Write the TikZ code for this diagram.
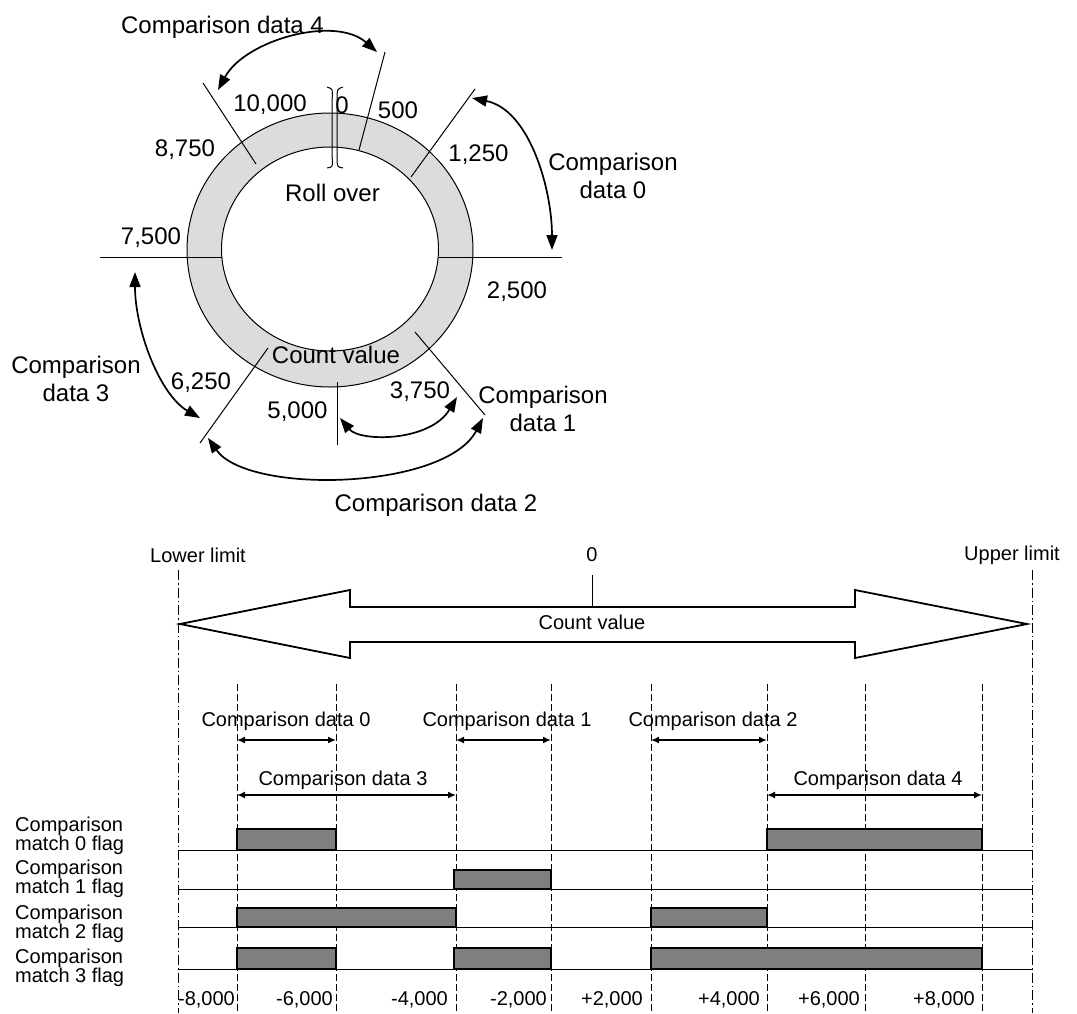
\documentclass[tikz,border=0pt]{standalone}
\usepackage{fontspec}
\setmainfont{Liberation Sans}
\usetikzlibrary{arrows.meta}
\definecolor{ringgray}{HTML}{DCDCDC}
\definecolor{flagfill}{HTML}{7F7F7F}
\begin{document}
\begin{tikzpicture}[x=1pt,y=-1pt,
  big/.style={font=\fontsize{24}{28}\selectfont, inner sep=0pt},
  small/.style={font=\fontsize{20}{20}\selectfont, inner sep=0pt},
  flaglbl/.style={font=\fontsize{20}{19}\selectfont, inner sep=0pt, align=left, anchor=west},
  num/.style={font=\fontsize{20}{20}\selectfont, inner sep=0pt, anchor=east},
  thinline/.style={line width=1pt},
  curvarr/.style={line width=1.7pt, {Triangle[length=15pt,width=11pt]}-{Triangle[length=15pt,width=11pt]}},
  rangearr/.style={line width=2.3pt, {Latex[length=8pt,width=7pt]}-{Latex[length=8pt,width=7pt]}},
  dashv/.style={line width=0.9pt, dash pattern=on 7pt off 3pt},
  dashdot/.style={line width=0.9pt, dash pattern=on 10pt off 3pt on 1.5pt off 3pt},
  pulse/.style={fill=flagfill, draw=black, line width=1.8pt},
]
\useasboundingbox (0,0) rectangle (1077,1013);

% ---------- ring ----------
\draw[thinline, fill=ringgray, even odd rule]
  (330,250) ellipse [x radius=143pt, y radius=137pt]
  (330,249) ellipse [x radius=108.5pt, y radius=102pt];

% radial lines
\coordinate (a7500o) at (100,257);   \coordinate (a7500i) at (221.5,257);
\coordinate (a2500i) at (438.5,257); \coordinate (a2500o) at (562,257);
\coordinate (a8750o) at (203,83);    \coordinate (a8750i) at (256,164);
\coordinate (a500o) at (385,52);     \coordinate (a500i) at (359,150);
\coordinate (a1250o) at (475,89);    \coordinate (a1250i) at (411,177);
\coordinate (a3750i) at (415,332);   \coordinate (a3750o) at (485,415);
\coordinate (a6250i) at (268,348);   \coordinate (a6250o) at (200,443);
\coordinate (a5000i) at (337,382);   \coordinate (a5000o) at (337,445);
\draw[thinline] (a7500o) -- (a7500i);
\draw[thinline] (a2500i) -- (a2500o);
\draw[thinline] (a8750o) -- (a8750i);
\draw[thinline] (a500o) -- (a500i);
\draw[thinline] (a1250o) -- (a1250i);
\draw[thinline] (a3750i) -- (a3750o);
\draw[thinline] (a6250i) -- (a6250o);
\draw[thinline] (a5000i) -- (a5000o);

% roll-over break mark
\draw[thinline] (327,87) .. controls (333,89) .. (332,100) -- (332,156) .. controls (333,167) .. (327,168);
\draw[thinline] (343,87) .. controls (337,89) .. (337,100) -- (337,156) .. controls (337,167) .. (343,168);

% labels around ring
\node[big] (cd4) at (222.5,27) {Comparison data 4};
\node[big] (l10000) at (270,105) {10,000};
\node[big] (l0) at (342,105) {0};
\node[big] (l500) at (398,110) {500};
\node[big] (l8750) at (185,150) {8,750};
\node[big] (l1250) at (478.5,155) {1,250};
\node[big] (roll) at (332.5,193) {Roll over};
\node[big] (l7500) at (151,238) {7,500};
\node[big,align=center] (cd0) at (613,176) {Comparison\\data 0};
\node[big] (l2500) at (517,292) {2,500};
\node[big] (countc) at (336,355) {Count value};
\node[big,align=center] (cd3) at (76,379) {Comparison\\data 3};
\node[big] (l6250) at (201,383) {6,250};
\node[big] (l3750) at (420,392) {3,750};
\node[big,align=center] (cd1) at (543,409) {Comparison\\data 1};
\node[big] (l5000) at (297.5,412) {5,000};
\node[big] (cd2) at (436,505) {Comparison data 2};

% curved range arrows
\coordinate (r4a) at (218,90);  \coordinate (r4b) at (377,52);
\coordinate (r0a) at (472,98);  \coordinate (r0b) at (552,250);
\coordinate (r3a) at (135,272); \coordinate (r3b) at (200,418);
\coordinate (r2a) at (208,438); \coordinate (r2b) at (483,418);
\coordinate (r1a) at (340,418); \coordinate (r1b) at (457,397);
\draw[curvarr] (r4a) .. controls (245,40) and (335,15) .. (r4b);
\draw[curvarr] (r0a) .. controls (530,110) and (552,190) .. (r0b);
\draw[curvarr] (r3a) .. controls (135,330) and (160,395) .. (r3b);
\draw[curvarr] (r2a) .. controls (248,495) and (445,490) .. (r2b);
\draw[curvarr] (r1a) .. controls (360,442) and (430,442) .. (r1b);

% ---------- linear part ----------
\node[small] (lower) at (198,555) {Lower limit};
\node[small] (upper) at (1012,555) {Upper limit};
\node[small] (zero) at (592,555) {0};

\draw[dashdot] (178,570) -- (178,1013);
\draw[dashdot] (1032,570) -- (1032,1013);

\draw[line width=1.8pt, fill=white] (180,624) -- (350,590) -- (350,607) -- (855,607)
  -- (855,590) -- (1027,624) -- (855,658) -- (855,642) -- (350,642) -- (350,658) -- cycle;
\coordinate (zt) at (592,575); \coordinate (zb) at (592,607);
\draw[thinline] (zt) -- (zb);
\node[small] (countb) at (592,622) {Count value};

\foreach \xx in {237,336,456,551,651,767,865,982}
  \draw[dashv] (\xx,684) -- (\xx,1013);

\node[small] (d0) at (286,721) {Comparison data 0};
\node[small] (d1) at (507,721) {Comparison data 1};
\node[small] (d2) at (713,721) {Comparison data 2};
\node[small] (d3) at (343,780) {Comparison data 3};
\node[small] (d4) at (878,780) {Comparison data 4};
\draw[rangearr] (237,740) -- (336,740);
\draw[rangearr] (456,740) -- (551,740);
\draw[rangearr] (651,740) -- (767,740);
\draw[rangearr] (237,795) -- (456,795);
\draw[rangearr] (767,795) -- (982,795);

% flags
\node[flaglbl] (f0) at (15,835.5) {Comparison\\match 0 flag};
\node[flaglbl] (f1) at (15,879) {Comparison\\match 1 flag};
\node[flaglbl] (f2) at (15,923.5) {Comparison\\match 2 flag};
\node[flaglbl] (f3) at (15,967.5) {Comparison\\match 3 flag};

\draw[thinline] (178,850) -- (1032,850);
\draw[thinline] (178,889) -- (1032,889);
\draw[thinline] (178,927) -- (1032,927);
\draw[thinline] (178,969) -- (1032,969);

\draw[pulse] (237,829) rectangle (336,850);
\draw[pulse] (767,829) rectangle (982,850);
\draw[pulse] (454,870) rectangle (551,889);
\draw[pulse] (237,908) rectangle (456,927);
\draw[pulse] (651,908) rectangle (767,927);
\draw[pulse] (237,948) rectangle (336,969);
\draw[pulse] (454,948) rectangle (551,969);
\draw[pulse] (651,948) rectangle (982,969);

% scale numbers
\node[num] (n1) at (235,1000) {-8,000};
\node[num] (n2) at (333,1000) {-6,000};
\node[num] (n3) at (448,1000) {-4,000};
\node[num] (n4) at (547,1000) {-2,000};
\node[num] (n5) at (643,1000) {+2,000};
\node[num] (n6) at (760,1000) {+4,000};
\node[num] (n7) at (860,1000) {+6,000};
\node[num] (n8) at (975,1000) {+8,000};
\end{tikzpicture}
\end{document}
